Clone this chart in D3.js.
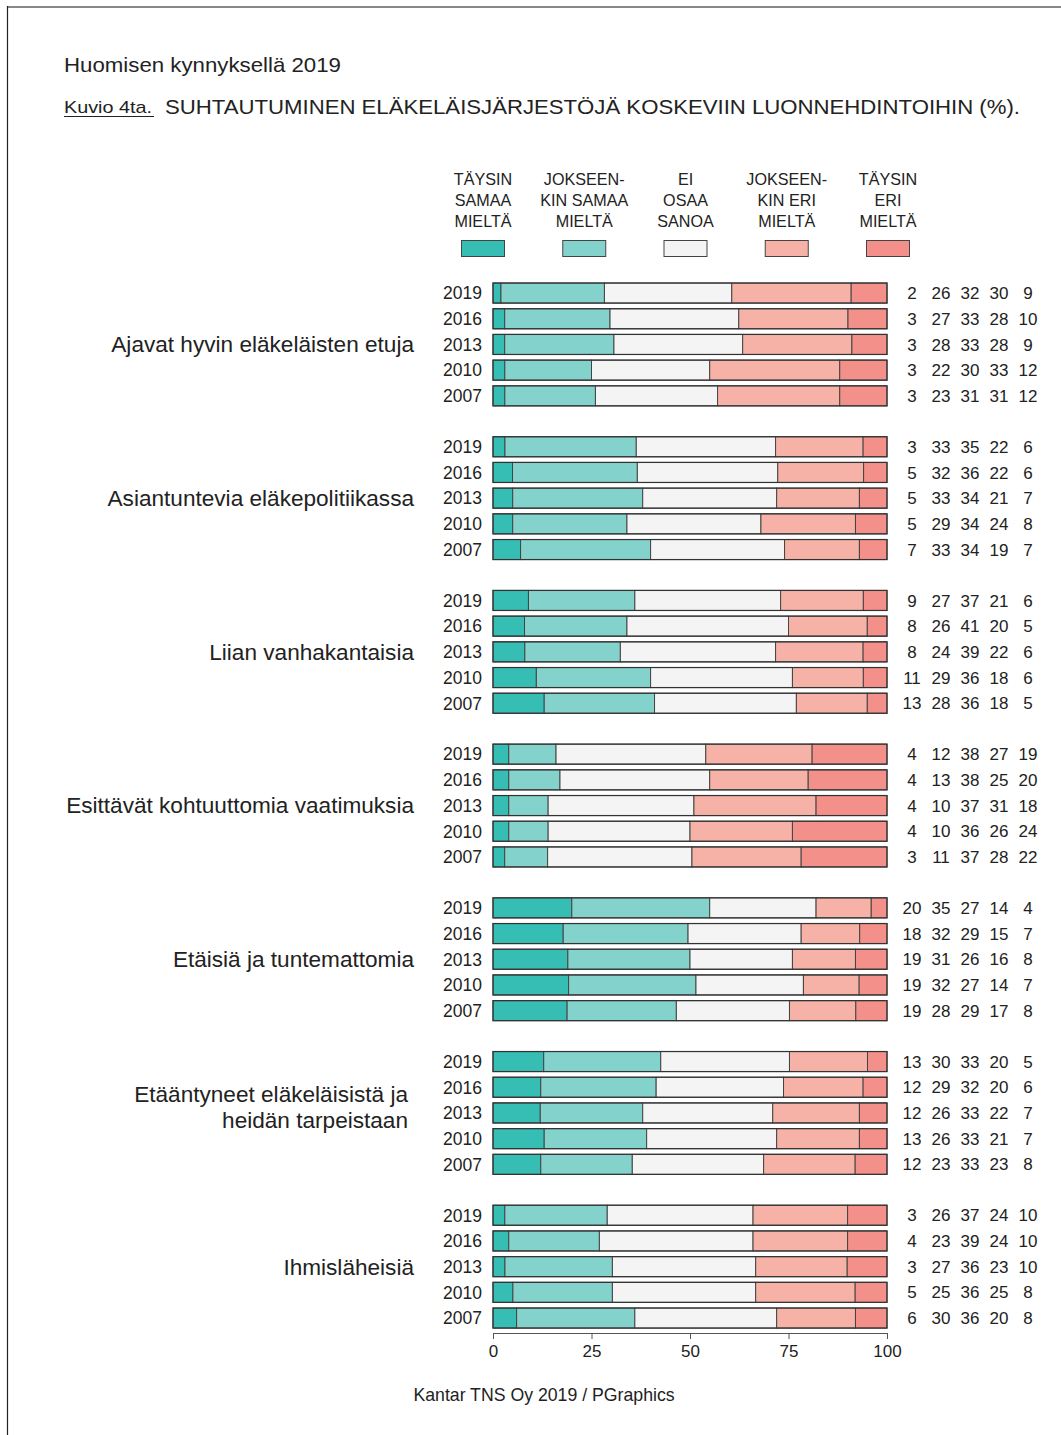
<!DOCTYPE html>
<html>
<head>
<meta charset="utf-8">
<script src="https://cdn.jsdelivr.net/npm/d3@7"></script>
<style>
  body { margin: 0; background: #fff; }
  text { font-family: "Liberation Sans", Arial, sans-serif; fill: #222; }
</style>
</head>
<body>
<svg width="1061" height="1435"></svg>
<script>
// data
const categories = [
  ['Ajavat hyvin eläkeläisten etuja'],
  ['Asiantuntevia eläkepolitiikassa'],
  ['Liian vanhakantaisia'],
  ['Esittävät kohtuuttomia vaatimuksia'],
  ['Etäisiä ja tuntemattomia'],
  ['Etääntyneet eläkeläisistä ja', 'heidän tarpeistaan'],
  ['Ihmisläheisiä']
];
const years = ['2019', '2016', '2013', '2010', '2007'];
const answers = ['TÄYSIN SAMAA MIELTÄ', 'JOKSEENKIN SAMAA MIELTÄ', 'EI OSAA SANOA', 'JOKSEENKIN ERI MIELTÄ', 'TÄYSIN ERI MIELTÄ'];
const legendLines = [
  ['TÄYSIN', 'SAMAA', 'MIELTÄ'],
  ['JOKSEEN-', 'KIN SAMAA', 'MIELTÄ'],
  ['EI', 'OSAA', 'SANOA'],
  ['JOKSEEN-', 'KIN ERI', 'MIELTÄ'],
  ['TÄYSIN', 'ERI', 'MIELTÄ']
];
const colors = ['#36bdb4', '#84d2cc', '#f4f4f4', '#f7b2a7', '#f39089'];

// values per category, rows = years (2019..2007), cols = answers
const ajavat      = [[2,26,32,30,9],[3,27,33,28,10],[3,28,33,28,9],[3,22,30,33,12],[3,23,31,31,12]];
const asiantunt   = [[3,33,35,22,6],[5,32,36,22,6],[5,33,34,21,7],[5,29,34,24,8],[7,33,34,19,7]];
const vanhakant   = [[9,27,37,21,6],[8,26,41,20,5],[8,24,39,22,6],[11,29,36,18,6],[13,28,36,18,5]];
const kohtuuttom  = [[4,12,38,27,19],[4,13,38,25,20],[4,10,37,31,18],[4,10,36,26,24],[3,11,37,28,22]];
const etaisia     = [[20,35,27,14,4],[18,32,29,15,7],[19,31,26,16,8],[19,32,27,14,7],[19,28,29,17,8]];
const etaantyneet = [[13,30,33,20,5],[12,29,32,20,6],[12,26,33,22,7],[13,26,33,21,7],[12,23,33,23,8]];
const ihmislah    = [[3,26,37,24,10],[4,23,39,24,10],[3,27,36,23,10],[5,25,36,25,8],[6,30,36,20,8]];
const values = [ajavat, asiantunt, vanhakant, kohtuuttom, etaisia, etaantyneet, ihmislah];
const ticks = [0, 25, 50, 75, 100];

const svg = d3.select('svg');

// frame
svg.append('line').attr('x1', 7).attr('x2', 1061).attr('y1', 7).attr('y2', 7)
  .attr('stroke', '#888').attr('stroke-width', 2);
svg.append('line').attr('x1', 7.5).attr('x2', 7.5).attr('y1', 6).attr('y2', 1435)
  .attr('stroke', '#222').attr('stroke-width', 1.2);

// titles
svg.append('text').attr('x', 64).attr('y', 72).style('font-size', '21px')
  .attr('textLength', 277).attr('lengthAdjust', 'spacingAndGlyphs')
  .text('Huomisen kynnyksellä 2019');
svg.append('text').attr('x', 64).attr('y', 113).style('font-size', '17px')
  .attr('textLength', 88).attr('lengthAdjust', 'spacingAndGlyphs')
  .text('Kuvio 4ta.');
svg.append('line').attr('x1', 64).attr('x2', 154).attr('y1', 116.5).attr('y2', 116.5)
  .attr('stroke', '#222').attr('stroke-width', 1);
svg.append('text').attr('x', 165).attr('y', 114).style('font-size', '21px')
  .attr('textLength', 855).attr('lengthAdjust', 'spacingAndGlyphs')
  .text('SUHTAUTUMINEN ELÄKELÄISJÄRJESTÖJÄ KOSKEVIIN LUONNEHDINTOIHIN (%).');

// scales
const x = d3.scaleLinear().domain([0, 100]).range([493, 887]);
const yGroup = d3.scaleBand().domain(d3.range(categories.length))
  .range([280.2, 280.2 + 153.7 * (categories.length - 0.164)]).paddingInner(0.164).paddingOuter(0);
const yYear = d3.scaleBand().domain(years).range([0, yGroup.bandwidth()])
  .paddingInner(0.22).paddingOuter(0.11);
const legendX = d3.scalePoint().domain(answers).range([483, 888]);
const valueX = d3.scalePoint().domain(answers).range([912, 1028]);

// legend
const leg = svg.append('g').selectAll('g').data(answers).join('g')
  .attr('transform', d => `translate(${legendX(d)},0)`);
leg.each(function (d, i) {
  const g = d3.select(this);
  legendLines[i].forEach((ln, k) => {
    g.append('text').attr('y', 185 + k * 21).attr('text-anchor', 'middle')
      .style('font-size', '17px').attr('transform', 'scale(0.95,1)').text(ln);
  });
  g.append('rect').attr('x', -21.5).attr('y', 240.5).attr('width', 43).attr('height', 16)
    .attr('fill', colors[i]).attr('stroke', '#444').attr('stroke-width', 1);
});

// groups
const groups = svg.append('g').selectAll('g.grp').data(values).join('g')
  .attr('class', 'grp')
  .attr('transform', (d, i) => `translate(0,${yGroup(i)})`);

groups.each(function (rows, gi) {
  const g = d3.select(this);
  // category label
  const lines = categories[gi];
  const midY = yYear('2013') + yYear.bandwidth() / 2;
  lines.forEach((ln, k) => {
    const off = lines.length === 1 ? 0 : (k - 0.5) * 26 - 6;
    g.append('text').attr('x', lines.length === 1 ? 414 : 408)
      .attr('y', midY + off).attr('dy', '0.35em').attr('text-anchor', 'end')
      .style('font-size', '22.6px').text(ln);
  });

  const row = g.selectAll('g.row').data(rows).join('g').attr('class', 'row')
    .attr('transform', (d, j) => `translate(0,${yYear(years[j])})`);

  row.append('text').attr('x', 482).attr('y', yYear.bandwidth() / 2).attr('dy', '0.36em')
    .attr('text-anchor', 'end').style('font-size', '17.5px')
    .text((d, j) => years[j]);

  row.each(function (vals) {
    const r = d3.select(this);
    const total = d3.sum(vals);
    let acc = 0;
    const segs = vals.map((v, k) => {
      const s = { k, x0: acc / total * 100, x1: (acc + v) / total * 100 };
      acc += v;
      return s;
    });
    r.selectAll('rect').data(segs).join('rect')
      .attr('x', d => x(d.x0)).attr('width', d => x(d.x1) - x(d.x0))
      .attr('y', 0).attr('height', yYear.bandwidth())
      .attr('fill', d => colors[d.k]).attr('stroke', '#444').attr('stroke-width', 1);
    r.append('rect').attr('x', x(0)).attr('width', x(100) - x(0))
      .attr('y', 0).attr('height', yYear.bandwidth())
      .attr('fill', 'none').attr('stroke', '#333').attr('stroke-width', 1.2);
    r.selectAll('text.val').data(vals).join('text').attr('class', 'val')
      .attr('x', (d, k) => valueX(answers[k])).attr('y', yYear.bandwidth() / 2).attr('dy', '0.36em')
      .attr('text-anchor', 'middle').style('font-size', '17px').text(d => d);
  });
});

// axis
const axisY = 1333;
const ax = svg.append('g').attr('transform', `translate(0,${axisY})`)
  .call(d3.axisBottom(x).tickValues(ticks).tickSize(6).tickSizeOuter(0));
ax.select('.domain').attr('stroke', '#555');
ax.selectAll('.tick line').attr('stroke', '#555');
ax.selectAll('.tick text').style('font-size', '17px').attr('fill', '#222')
  .attr('y', 12).style('font-family', '"Liberation Sans", Arial, sans-serif');

// footer
svg.append('text').attr('x', 544).attr('y', 1401).attr('text-anchor', 'middle')
  .style('font-size', '17.7px').text('Kantar TNS Oy 2019 / PGraphics');
</script>
</body>
</html>
